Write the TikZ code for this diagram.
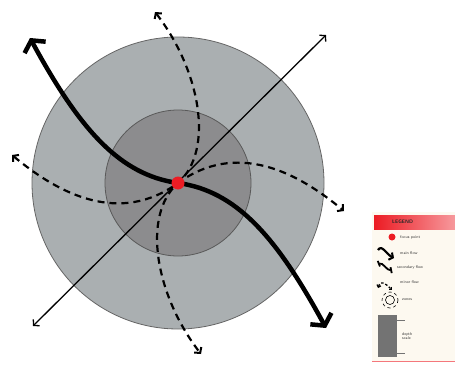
\documentclass[tikz,border=0pt]{standalone}
\usepackage{tikz}
\usetikzlibrary{arrows.meta}

\definecolor{outergray}{RGB}{170,175,177}
\definecolor{innergray}{RGB}{140,140,142}
\definecolor{legendbg}{RGB}{253,249,240}
\definecolor{legendred}{RGB}{236,28,36}

\tikzset{
  mainhead/.tip={Straight Barb[length=8pt,width=24pt,line width=4.5pt]},
  flowmain/.style={line width=4.5pt, line cap=round, mainhead-mainhead},
  flowthin/.style={line width=1.3pt, {Straight Barb[length=4pt,width=9pt,line width=1.3pt]}-{Straight Barb[length=4pt,width=9pt,line width=1.3pt]}},
  flowdash/.style={line width=2.2pt, dash pattern=on 7pt off 5pt, {Straight Barb[length=4pt,width=9pt,line width=2pt]}-{Straight Barb[length=4pt,width=9pt,line width=2pt]}},
  legtext/.style={font=\fontsize{4}{4.6}\selectfont\sffamily, anchor=west, inner sep=0pt, text=black!80}
}

\begin{document}
\begin{tikzpicture}[x=1pt, y=-1pt]
	\useasboundingbox (0,0) rectangle (455,364);
	\coordinate (ctr) at (178,183);
	% zones
	\draw[fill=outergray, draw=black!60, line width=0.8pt] (ctr) circle[radius=146];
	\draw[fill=innergray, draw=black!65, line width=0.8pt] (ctr) circle[radius=73];
	% end points of the flows
	\coordinate (mainA) at (30,38);
	\coordinate (mainB) at (326,328);
	\coordinate (thinA) at (33,326);
	\coordinate (thinB) at (326,35);
	\coordinate (vertA) at (155,12);
	\coordinate (vertB) at (201,354);
	\coordinate (horA) at (12,155);
	\coordinate (horB) at (344,211);
	\draw[flowdash] (vertA) .. controls (200,70) and (215,150) .. (ctr) .. controls (141,216) and (156,296) .. (vertB);
	\draw[flowdash] (horA) .. controls (60,195) and (120,225) .. (ctr) .. controls (236,141) and (296,171) .. (horB);
	\draw[flowthin] (thinA) -- (thinB);
	\draw[flowmain] (mainA) .. controls (80,130) and (120,175) .. (ctr) .. controls (236,191) and (276,236) .. (mainB);
	\node[circle, fill=legendred, inner sep=0pt, minimum size=13pt] (focus) at (ctr) {};

	% legend
	\fill[legendbg] (372,212) rectangle (455,362);
	\draw[legendred!60, line width=0.8pt] (372,361) -- (455,361);
	\shade[left color=legendred, right color=legendred!45] (374,215) rectangle (455,229);
	\node[legtext, text=black!85, font=\fontsize{5}{5.5}\selectfont\bfseries\sffamily] (legtitle) at (392,222) {LEGEND};
	\node[circle, fill=legendred, inner sep=0pt, minimum size=7pt] (legdot) at (392,237) {};
	\node[legtext] (legdottxt) at (400,237) {focus point};
	\draw[line width=2.2pt, -{Straight Barb[length=3pt,width=8pt,line width=2pt]}] (378,250) .. controls (382,244) and (386,254) .. (394,258);
	\node[legtext] (legmain) at (400,253) {main flow};
	\draw[line width=1.8pt, {Bar[width=6pt]}-{Bar[width=6pt]}] (378,264) .. controls (383,262) and (387,271) .. (392,270);
	\node[legtext] (legsec) at (397,267) {secondary flow};
	\draw[line width=1.3pt, dash pattern=on 2.5pt off 2pt, {Straight Barb[length=2pt,width=4pt]}-{Straight Barb[length=2pt,width=4pt]}] (378,288) .. controls (381,279) and (386,284) .. (392,290);
	\node[legtext] (legdash) at (400,282) {minor flow};
	\draw[line width=0.6pt, dashed] (390,300) circle[radius=8];
	\draw[line width=0.6pt] (390,300) circle[radius=4.5];
	\node[legtext] (legzone) at (402,300) {zones};
	\fill[black!55] (378,315) rectangle (397,357);
	\foreach \ty in {320,353} {\draw[black!55, line width=0.6pt] (397,\ty) -- (405,\ty);}
	\node[legtext, align=left] (legbar) at (402,336) {depth\\scale};
\end{tikzpicture}
\end{document}
